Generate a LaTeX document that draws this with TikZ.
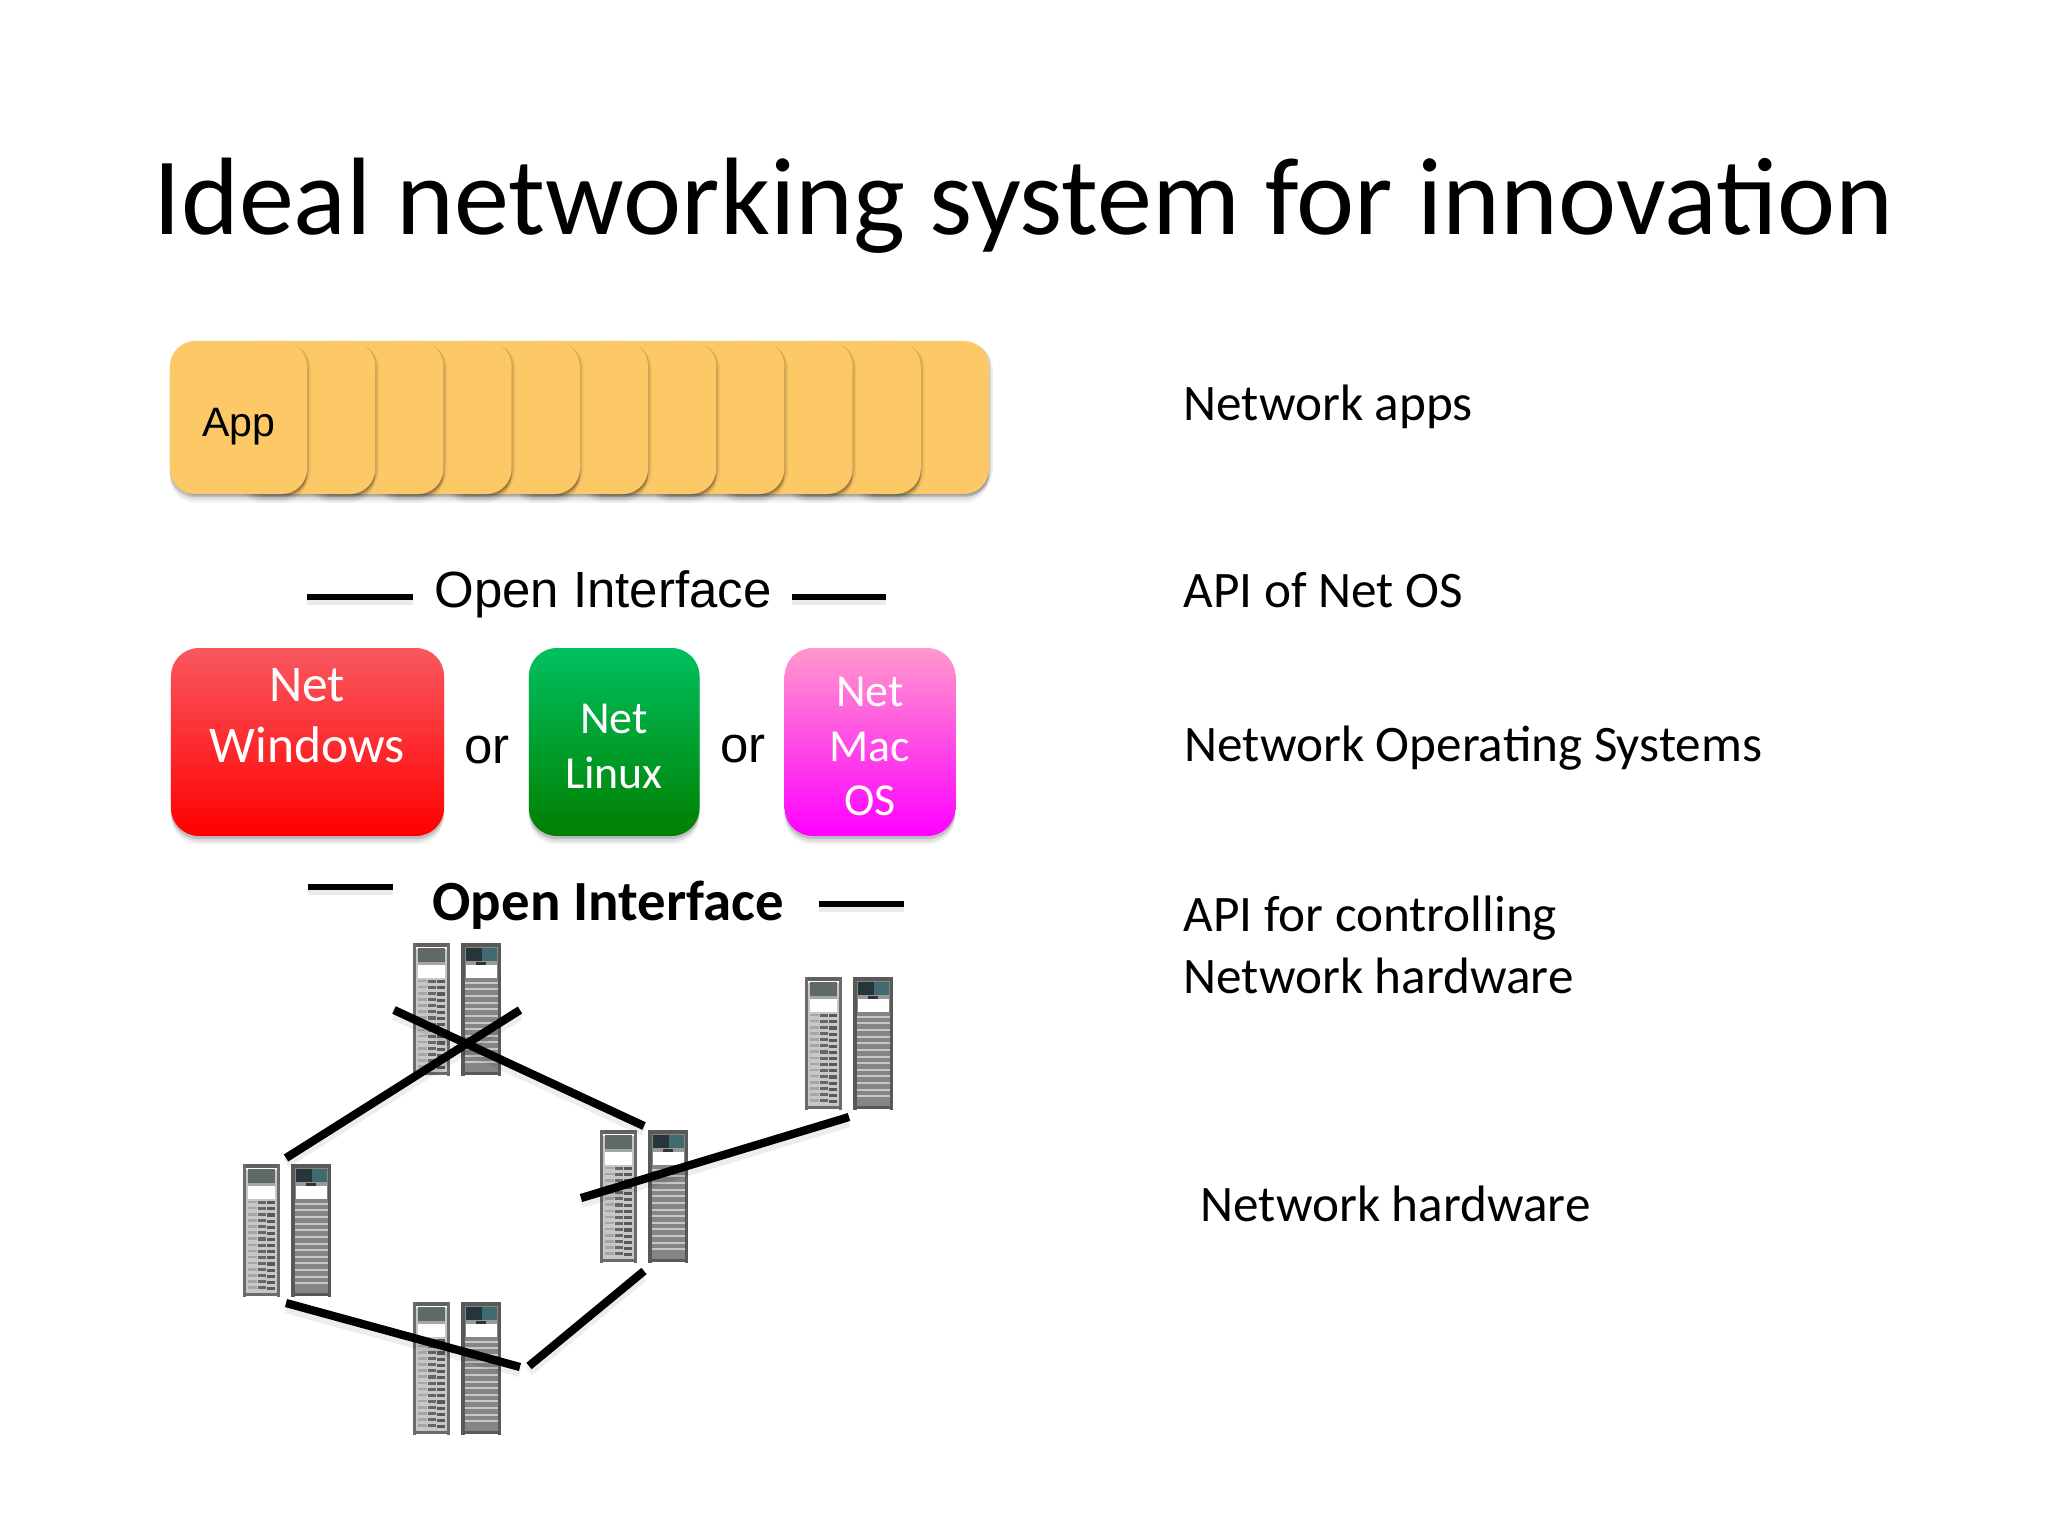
\documentclass[tikz,border=0pt]{standalone}
\usepackage{fontspec}
\setmainfont{Carlito}
\newfontfamily\arialf{Liberation Sans}
\newcommand{\fsz}[1]{\fontsize{#1}{#1}\selectfont}
\definecolor{appfill}{HTML}{FDC966}
\definecolor{wintop}{HTML}{F95860}
\definecolor{linuxtop}{HTML}{00C060}
\definecolor{linuxbot}{HTML}{008000}
\definecolor{mactop}{HTML}{FF98CC}
\definecolor{panelgrey}{HTML}{5F6A64}
\definecolor{paneldark}{HTML}{24363A}
\definecolor{panelteal}{HTML}{3F6A70}
\tikzset{
 softshadow/.style={
   preaction={fill=black,opacity=.05,transform canvas={yshift=-3.2pt}},
   preaction={fill=black,opacity=.08,transform canvas={yshift=-2.2pt}},
   preaction={fill=black,opacity=.14,transform canvas={yshift=-1.2pt}}},
 appcard/.style={fill=appfill,rounded corners=9.5pt,minimum width=51.4pt,minimum height=57.4pt,inner sep=0pt,softshadow,
   preaction={fill=black,opacity=.06,transform canvas={xshift=1.4pt,yshift=-.8pt}},
   preaction={fill=black,opacity=.12,transform canvas={xshift=.7pt,yshift=-.4pt}}},
 osbox/.style={rounded corners=10.5pt,inner sep=0pt,minimum height=70.5pt,softshadow},
 lbl/.style={anchor=base west,inner sep=0pt,font=\fsz{19.2}},
 ostext/.style={anchor=base,inner sep=0pt,text=white},
 ar/.style={anchor=base west,inner sep=0pt,font=\arialf\fsz{19.1}},
 wire/.style={line width=3.1pt,black},
 wireshadow/.style={line width=3.6pt,black,opacity=.07,transform canvas={yshift=-2pt}},
 rule/.style={line width=1.9pt,black},
 ruleshadow/.style={line width=2.6pt,black,opacity=.08,transform canvas={yshift=-1.8pt}},
 pics/rack/.style={code={
  % left tower
  \fill[black!22] (2,6) rectangle (35,128);
  \fill[black!62] (0,0) rectangle (37,3.5);
  \fill[black!58] (0,0) rectangle (3,130);
  \fill[black!58] (34,0) rectangle (37,130);
  \fill[black!58] (1,126) rectangle (36,129);
  \fill[panelgrey] (5,5) rectangle (32,19);
  \fill[black!35] (5,19) rectangle (32,23);
  \fill[white] (5,22) rectangle (32,34);
  \foreach \yy in {36,42,...,120}{
    \fill[black!35] (5,\yy) rectangle (14,\yy+2.5);
    \fill[black!60] (15,\yy) rectangle (23,\yy+3);
    \fill[black!65] (24,\yy+.5) rectangle (32,\yy+3.5);
  }
  % right tower
  \fill[black!48] (48,3) rectangle (87,128);
  \fill[black!65] (48,0) rectangle (87,3.5);
  \fill[black!65] (48,0) rectangle (51,130);
  \fill[black!65] (84,0) rectangle (87,130);
  \fill[black!65] (49,126) rectangle (86,129);
  \fill[paneldark] (52,5) rectangle (68,18);
  \fill[panelteal] (68,5) rectangle (83,18);
  \fill[black!40] (52,18) rectangle (83,22);
  \fill[black!80] (62,19) rectangle (72,22);
  \fill[white] (52,22) rectangle (83,34);
  \foreach \yy in {38,44.5,...,122}{
    \fill[black!22] (51,\yy) rectangle (84,\yy+2);
  }
 }},
}
\begin{document}
\begin{tikzpicture}[x=0.375pt,y=-0.375pt]
\useasboundingbox[fill=white] (0,0) rectangle (2048,1536);

\node[anchor=base west,inner sep=0pt,font=\fsz{41.3}] (title) at (153,234) {Ideal networking system for innovation};

% application cards, last first so the first lies on top
\foreach \k in {10,9,...,0}{
  \node[appcard] (card\k) at ({238.5+68.2*\k},417.5) {};
}
\node[anchor=base west,inner sep=0pt,font=\arialf\fsz{15.4}] (app) at (202,436) {App};

% upper interface
\coordinate (r1a) at (307,597); \coordinate (r1b) at (413,597);
\coordinate (r2a) at (792,597); \coordinate (r2b) at (886,597);
\draw[ruleshadow] (r1a) -- (r1b);
\draw[ruleshadow] (r2a) -- (r2b);
\draw[rule] (r1a) -- (r1b);
\draw[rule] (r2a) -- (r2b);
\node[ar] (oi1) at (434,607) {Open Interface};

% operating systems
\node[osbox,minimum width=102.4pt,top color=wintop,bottom color=red] (win) at (307.5,742) {};
\node[ostext,font=\fsz{19.3}] (win1) at (307,701) {Net};
\node[ostext,font=\fsz{19.3}] (win2) at (307,762) {Windows};
\node[ar] (or1) at (464,763) {or};
\node[osbox,minimum width=64pt,top color=linuxtop,bottom color=linuxbot] (lin) at (614.2,742) {};
\node[ostext,font=\fsz{17.2}] (lin1) at (614,733) {Net};
\node[ostext,font=\fsz{17.2}] (lin2) at (614,788) {Linux};
\node[ar] (or2) at (720,762) {or};
\node[osbox,minimum width=64pt,top color=mactop,bottom color=magenta] (mac) at (870,742) {};
\node[ostext,font=\fsz{17.2}] (mac1) at (870,706) {Net};
\node[ostext,font=\fsz{17.2}] (mac2) at (870,761) {Mac};
\node[ostext,font=\fsz{17.2}] (mac3) at (870,815) {OS};

% lower interface
\coordinate (r3a) at (308,887); \coordinate (r3b) at (393,887);
\coordinate (r4a) at (819,904); \coordinate (r4b) at (904,904);
\draw[ruleshadow] (r3a) -- (r3b);
\draw[ruleshadow] (r4a) -- (r4b);
\draw[rule] (r3a) -- (r3b);
\draw[rule] (r4a) -- (r4b);
\node[anchor=base west,inner sep=0pt,font=\bfseries\fsz{21.3}] (oi2) at (432,920) {Open Interface};

% racks
\pic[xscale=1.01,yscale=1.02] at (413,943) {rack};
\pic[xscale=1.01,yscale=1.02] at (805,977) {rack};
\pic[xscale=1.01,yscale=1.02] at (600,1130) {rack};
\pic[xscale=1.01,yscale=1.02] at (243,1164) {rack};
\pic[xscale=1.01,yscale=1.02] at (413,1302) {rack};

% links
\coordinate (la) at (286,1158); \coordinate (lb) at (520,1010);
\coordinate (ma) at (394,1010); \coordinate (mb) at (644,1126);
\coordinate (na) at (581,1198); \coordinate (nb) at (849,1117);
\coordinate (oa) at (286,1303); \coordinate (ob) at (520,1367);
\coordinate (pa) at (529,1366); \coordinate (pb) at (644,1271);
\foreach \a/\b in {la/lb,ma/mb,na/nb,oa/ob,pa/pb}{
  \draw[wireshadow] (\a) -- (\b);
}
\foreach \a/\b in {la/lb,ma/mb,na/nb,oa/ob,pa/pb}{
  \draw[wire] (\a) -- (\b);
}

% right column
\node[lbl] (t1) at (1183,420) {Network apps};
\node[lbl] (t2) at (1183,607) {API of Net OS};
\node[lbl] (t3) at (1184,761) {Network Operating Systems};
\node[lbl] (t4) at (1183,931) {API for controlling};
\node[lbl] (t5) at (1183,993) {Network hardware};
\node[lbl] (t6) at (1200,1221) {Network hardware};
\end{tikzpicture}
\end{document}
